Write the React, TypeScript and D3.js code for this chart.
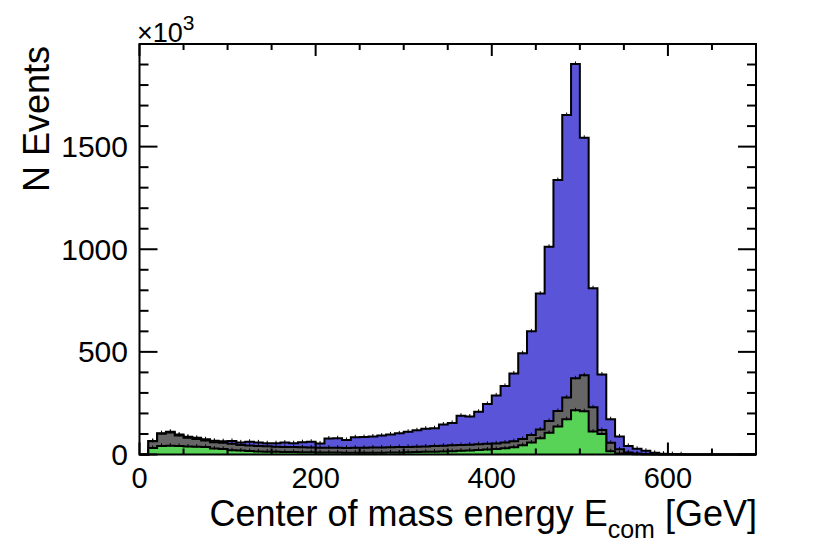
import { useEffect, useRef } from 'react'
import * as d3 from 'd3'

// 70 bins of 10 GeV from 0 to 700, values in units of 10^3 events
const binEdges = d3.range(0, 710, 10)
const greenVals = [
  0, 32, 42, 43, 42, 39, 38, 37, 29, 27, 21, 19, 17, 15, 14, 13, 12, 12, 11, 11,
  10, 10, 10, 9, 9, 9, 9, 9, 10, 10, 11, 12, 13, 14, 15, 16, 18, 20, 22, 24,
  27, 30, 35, 45, 58, 79, 106, 137, 172, 215, 211, 112, 100, 16, 5, 2, 1, 0, 0, 0,
  0, 0, 0, 0, 0, 0, 0, 0, 0, 0,
]
const grayVals = [
  0, 32, 59, 64, 51, 43, 38, 31, 31, 30, 31, 27, 27, 27, 26, 25, 25, 24, 24, 23,
  23, 23, 23, 23, 24, 24, 25, 25, 25, 26, 26, 26, 26, 27, 28, 29, 28, 28, 28, 28,
  27, 28, 30, 30, 37, 43, 57, 75, 106, 156, 175, 118, 19, 41, 20, 8, 4, 3, 1, 0,
  0, 0, 0, 0, 0, 0, 0, 0, 0, 0,
]
const blueVals = [
  0, 2, 3, 4, 4, 5, 5, 6, 7, 8, 14, 13, 18, 17, 15, 17, 21, 19, 25, 28,
  21, 45, 46, 39, 51, 52, 54, 58, 63, 67, 74, 80, 87, 87, 103, 109, 143, 137, 158, 194,
  234, 276, 330, 418, 505, 662, 849, 1125, 1376, 1532, 1157, 580, 271, 115, 63, 32, 23, 15, 7, 4,
  2, 1, 0, 0, 0, 0, 0, 0, 0, 0,
]
const xTicks = [0, 200, 400, 600]
const yTicks = [0, 500, 1000, 1500]

const FONT = 'Liberation Sans, Arial, Helvetica, sans-serif'

export default function App() {
  const svgRef = useRef<SVGSVGElement>(null)

  useEffect(() => {
    const svg = d3.select(svgRef.current)
    svg.selectAll('*').remove()
    const W = 822, H = 555
    svg.attr('width', W).attr('height', H)

    const x = d3.scaleLinear().domain([0, 700]).range([139.5, 756])
    const y = d3.scaleLinear().domain([0, 2000]).range([454.5, 44])

    const rows = greenVals.map((g, i) => ({ lo: binEdges[i], green: g, gray: grayVals[i], blue: blueVals[i] }))
    const stacked = d3.stack<any>().keys(['green', 'gray', 'blue'])(rows)
    const colors: Record<string, string> = { green: '#58d257', gray: '#666666', blue: '#5954d8' }

    const g = svg.append('g')
    g.append('rect').attr('width', W).attr('height', H).attr('fill', '#fff')

    // cumulative layers, top one first so lower ones paint over it
    ;[2, 1, 0].forEach((k) => {
      const layer = stacked[k]
      const pts: [number, number][] = layer.map((d, i) => [binEdges[i], d[1]])
      pts.push([700, layer[layer.length - 1][1]])
      const area = d3.area<[number, number]>()
        .x((d) => x(d[0])).y0(y(0)).y1((d) => y(d[1]))
        .curve(d3.curveStepAfter)
      g.append('path').attr('d', area(pts)!).attr('fill', colors[layer.key])

      // histogram outline
      const path = d3.path()
      path.moveTo(x(0), y(0))
      layer.forEach((d, i) => {
        path.lineTo(x(binEdges[i]), y(d[1]))
        path.lineTo(x(binEdges[i + 1]), y(d[1]))
      })
      path.lineTo(x(700), y(0))
      g.append('path').attr('d', path.toString()).attr('fill', 'none')
        .attr('stroke', '#000').attr('stroke-width', 2)

      // small error nubs at bin centres
      layer.forEach((d, i) => {
        if (d[1] <= 0) return
        const cx = x(binEdges[i] + 5)
        g.append('line').attr('x1', cx).attr('x2', cx)
          .attr('y1', y(d[1]) - 2.5).attr('y2', y(d[1]) + 1)
          .attr('stroke', '#000').attr('stroke-width', 1)
      })
    })

    // frame
    g.append('rect').attr('x', 139.5).attr('y', 44).attr('width', 756 - 139.5).attr('height', 454.5 - 44)
      .attr('fill', 'none').attr('stroke', '#000').attr('stroke-width', 2)

    // x ticks (bottom + top)
    d3.range(0, 701, 50).forEach((v) => {
      const len = v % 200 === 0 ? 12 : 6
      const px = x(v)
      g.append('line').attr('x1', px).attr('x2', px).attr('y1', 454.5).attr('y2', 454.5 - len)
        .attr('stroke', '#000').attr('stroke-width', 2)
      g.append('line').attr('x1', px).attr('x2', px).attr('y1', 44).attr('y2', 44 + len)
        .attr('stroke', '#000').attr('stroke-width', 2)
    })
    // y ticks (left + right)
    d3.range(0, 2001, 100).forEach((v) => {
      const len = v % 500 === 0 ? 18 : 9
      const py = y(v)
      g.append('line').attr('x1', 139.5).attr('x2', 139.5 + len).attr('y1', py).attr('y2', py)
        .attr('stroke', '#000').attr('stroke-width', 2)
      g.append('line').attr('x1', 756).attr('x2', 756 - len).attr('y1', py).attr('y2', py)
        .attr('stroke', '#000').attr('stroke-width', 2)
    })

    // tick labels
    xTicks.forEach((v) => {
      g.append('text').attr('x', x(v)).attr('y', 488).attr('text-anchor', 'middle')
        .attr('font-family', FONT).attr('font-size', 29).attr('fill', '#000').text(String(v))
    })
    yTicks.forEach((v) => {
      g.append('text').attr('x', 128).attr('y', y(v) + 10.5).attr('text-anchor', 'end')
        .attr('font-family', FONT).attr('font-size', 30).attr('fill', '#000').text(String(v))
    })

    // exponent
    const ex = g.append('text').attr('x', 137).attr('y', 42)
      .attr('font-family', FONT).attr('font-size', 27).attr('fill', '#000')
    ex.append('tspan').text('×10')
    ex.append('tspan').attr('dy', -12).attr('font-size', 21).text('3')

    // axis titles
    const xt = g.append('text').attr('x', 757).attr('y', 526).attr('text-anchor', 'end')
      .attr('font-family', FONT).attr('font-size', 36).attr('fill', '#000')
    xt.append('tspan').text('Center of mass energy E')
    xt.append('tspan').attr('dy', 12).attr('font-size', 25).text('com')
    xt.append('tspan').attr('dy', -12).text(' [GeV]')

    g.append('text').attr('transform', 'translate(49,192) rotate(-90)').attr('text-anchor', 'start')
      .attr('font-family', FONT).attr('font-size', 36).attr('fill', '#000').text('N Events')
  }, [])

  return (
    <div style={{ position: 'absolute', left: 0, top: 0 }}>
      <svg ref={svgRef} style={{ display: 'block' }} />
    </div>
  )
}
